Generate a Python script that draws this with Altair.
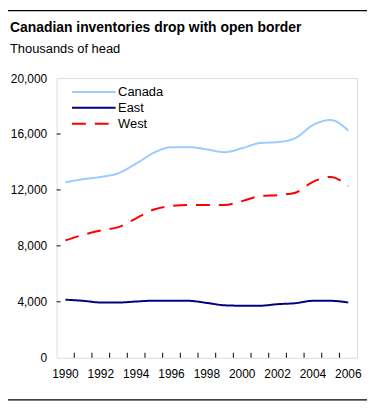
import altair as alt
import pandas as pd

years = list(range(1990, 2007))
series = ["Canada", "East", "West"]
canada = [12550, 12770, 12930, 13200, 13880, 14660, 15060, 15060, 14900, 14700, 14990, 15350, 15420, 15700, 16640, 17000, 16240]
east = [4150, 4070, 3950, 3950, 4020, 4080, 4080, 4070, 3920, 3750, 3720, 3720, 3830, 3900, 4070, 4070, 3950]
west = [8390, 8790, 9100, 9340, 9970, 10600, 10850, 10920, 10920, 10920, 11200, 11560, 11630, 11800, 12580, 12930, 12270]
colors = ["#99CCFF", "#000080", "#FF0000"]
dashes = [[1, 0], [1, 0], [14, 9]]
y_ticks = [0, 4000, 8000, 12000, 16000, 20000]
x_labels = list(range(1990, 2007, 2))
title = "Canadian inventories drop with open border"
subtitle = "Thousands of head"

FONT = "Liberation Sans"
W, H = 303, 282

rows = []
for name, vals in zip(series, [canada, east, west]):
    for y, v in zip(years, vals):
        rows.append({"year": y, "series": name, "value": v})
df = pd.DataFrame(rows)

xaxis = alt.Axis(values=x_labels, labelAngle=0, ticks=False, domain=False,
                 labelPadding=11, labelFont=FONT, labelFontSize=12, labelColor="#000000")
yaxis = alt.Axis(values=y_ticks, format=",.0f", grid=False, ticks=False, domain=False,
                 labelPadding=10, labelFont=FONT, labelFontSize=12, labelColor="#000000")
yscale = alt.Scale(domain=[0, 20000])

lines = alt.Chart(df).mark_line(interpolate="monotone", strokeWidth=2).encode(
    x=alt.X("year:O", title=None, axis=xaxis),
    y=alt.Y("value:Q", title=None, scale=yscale, axis=yaxis),
    color=alt.Color("series:N", scale=alt.Scale(domain=series, range=colors), legend=None),
    strokeDash=alt.StrokeDash("series:N", scale=alt.Scale(domain=series, range=dashes), legend=None),
)

xt = pd.DataFrame({"year": years[:-1]})
xticks = alt.Chart(xt).mark_rule(color="black", xOffset=W / 17 / 2).encode(
    x=alt.X("year:O", title=None, axis=xaxis), y=alt.value(H), y2=alt.value(H - 5))

yt = pd.DataFrame({"value": y_ticks[1:-1]})
yticks = alt.Chart(yt).mark_rule(color="black").encode(
    y=alt.Y("value:Q", title=None, scale=yscale, axis=yaxis), x=alt.value(0), x2=alt.value(4))

layers = [lines, xticks, yticks]

# legend
for i, (name, c, d) in enumerate(zip(series, colors, dashes)):
    yy = 14 + 16 * i
    layers.append(alt.Chart(pd.DataFrame({"s": [name]})).mark_rule(
        color=c, strokeWidth=2, strokeDash=d).encode(
        x=alt.value(15.5), x2=alt.value(59.5), y=alt.value(yy)))
    layers.append(alt.Chart(pd.DataFrame({"s": [name]})).mark_text(
        align="left", baseline="middle", font=FONT, fontSize=13, color="black").encode(
        text="s:N", x=alt.value(62), y=alt.value(yy)))

# titles
layers.append(alt.Chart(pd.DataFrame({"t": [title]})).mark_text(
    align="left", baseline="alphabetic", font=FONT, fontSize=14, fontWeight="bold",
    color="black").encode(text="t:N", x=alt.value(-47), y=alt.value(-46)))
layers.append(alt.Chart(pd.DataFrame({"t": [subtitle]})).mark_text(
    align="left", baseline="alphabetic", font=FONT, fontSize=13,
    color="black").encode(text="t:N", x=alt.value(-47), y=alt.value(-25.5)))

# horizontal separator rules
for yy in [-68, 324.5]:
    layers.append(alt.Chart(pd.DataFrame({"s": [0]})).mark_rule(
        color="black", strokeWidth=1.3).encode(
        x=alt.value(-49), x2=alt.value(313), y=alt.value(yy)))

chart = alt.layer(*layers).properties(
    width=W, height=H,
    padding={"left": 49, "top": 69, "right": 12, "bottom": 44},
    autosize=alt.AutoSizeParams(type="none"),
).configure_view(stroke="black", strokeWidth=1.2).configure(background="white")

chart.save("out.html", embed_options={"renderer": "svg", "actions": False})
